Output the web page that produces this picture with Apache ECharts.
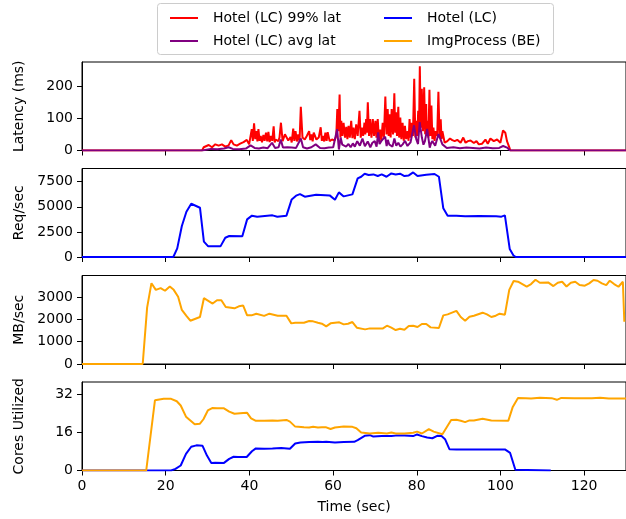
<!DOCTYPE html>
<html>
<head>
<meta charset="utf-8">
<script src="https://cdn.jsdelivr.net/npm/echarts@6/dist/echarts.min.js"></script>
<style>
html, body { margin: 0; padding: 0; background: #fff; }
#chart { width: 626px; height: 519px; }
</style>
</head>
<body>
<div id="chart"></div>
<script>
// latency panel: Hotel (LC) 99% lat (time in sec, ms)
var p99T = [0, 28.7, 29.09, 30.28, 31.07, 31.86, 32.65, 33.44, 34.23, 35.03, 35.66, 36.22, 37.01, 37.8, 38.6, 39.38, 39.93,
    40.57, 40.82, 41.12, 41.39, 41.68, 41.92, 42.16, 42.44, 42.71, 43.01, 43.35, 43.64, 43.97, 44.27, 44.54, 44.84, 45.16, 45.47, 45.8, 46.04,
    46.27, 46.91, 47.19, 47.54, 47.94, 48.49, 49.29, 49.84, 50.11, 50.48, 50.74, 51.03, 51.36, 51.66, 51.99, 52.29, 52.69, 53.24, 53.72,
    54.28, 54.55, 54.83, 55.12, 55.38, 56.02, 56.57, 57.04, 57.32, 57.6, 57.89, 58.16, 58.46, 58.71, 59.18, 59.74, 60.37,
    60.76, 61.01, 61.28, 61.56, 61.75, 61.96, 62.22, 62.51, 62.85, 63.15, 63.42, 63.7, 64.0, 64.33, 64.62, 64.88, 65.2, 65.52, 65.88,
    66.31, 66.61, 66.87, 67.18, 67.5, 67.7, 67.9, 68.07, 68.3, 68.59, 68.85, 69.17, 69.49, 69.79, 70.12, 70.37, 70.67, 70.94, 71.22,
    71.51, 71.86, 72.14, 72.49, 72.77, 73.05, 73.29, 73.53, 73.76, 74.0, 74.33, 74.64, 74.85, 75.03, 75.27, 75.59, 75.79, 76.06, 76.32,
    76.61, 76.89, 77.17, 77.46, 77.8, 78.04, 78.28, 78.51, 78.75, 79.08, 79.39, 79.66, 79.87, 80.13, 80.34, 80.54, 80.73, 80.96,
    81.2, 81.48, 81.77, 82.01, 82.24, 82.39, 82.55, 82.79, 83.03, 83.26, 83.5, 83.73, 83.98, 84.25, 84.53, 84.88, 85.17, 85.45,
    85.72, 85.92, 86.12, 86.67, 87.31, 87.94, 88.49, 89.05, 89.68, 90.47, 91.11, 91.66, 92.22, 92.85, 93.65, 94.27, 94.83, 95.62,
    96.41, 96.97, 97.6, 98.4, 99.19, 99.98, 100.61, 101.16, 101.56, 102.12, 102.35, 130];
var p99V = [0, 0, 10, 17, 10, 19, 15, 19, 12, 16, 32, 19, 15, 21, 26, 33, 19,
    66, 30, 84, 35, 60, 28, 66, 30, 45, 25, 48, 30, 55, 28, 58, 26, 45, 30, 75, 25,
    34, 29, 40, 86, 29, 50, 31, 42, 25, 68, 30, 60, 28, 50, 30, 135, 40, 34, 45,
    60, 32, 50, 28, 55, 34, 40, 72, 30, 45, 28, 55, 30, 57, 29, 34, 31,
    45, 128, 60, 173, 40, 92, 45, 86, 40, 73, 35, 76, 40, 92, 38, 71, 35, 81, 45,
    123, 40, 71, 45, 86, 50, 97, 55, 149, 45, 97, 40, 97, 45, 92, 40, 97, 35, 65,
    30, 86, 40, 167, 50, 128, 45, 112, 40, 128, 50, 177, 55, 118, 45, 135, 40, 102, 35,
    86, 30, 76, 35, 60, 30, 97, 40, 86, 45, 222, 40, 92, 45, 123, 60, 261, 70,
    191, 60, 196, 50, 144, 45, 92, 40, 188, 45, 139, 35, 71, 30, 60, 45, 182, 40,
    97, 35, 60, 24, 29, 37, 32, 29, 33, 24, 40, 24, 29, 31, 23, 29, 19, 21,
    34, 21, 37, 29, 34, 24, 62, 55, 29, 10, 0, 0];

// latency panel: Hotel (LC) avg lat
var avgT = [0, 28.71, 29.13, 30.8, 32.36, 33.93, 35.03, 36.02, 37.58, 39.15, 40.3, 41.24, 42.28, 43.33, 44.37, 45.41, 46.14,
    46.98, 47.5, 48.02, 49.07, 50.11, 51.16, 52.3, 52.83, 53.77, 54.81, 55.85, 56.9, 57.94, 58.99, 60.03, 60.97, 61.39, 61.8,
    62.2, 62.64, 63.1, 63.68, 64.2, 64.73, 65.2, 65.77, 66.4, 67.02, 67.6, 68.28, 68.9, 69.4, 69.95, 70.4, 70.78, 71.1, 71.51,
    72.45, 72.8, 73.08, 73.45, 73.81, 74.2, 74.65, 75.1, 75.59, 76.1, 76.63, 77.2, 77.78, 78.5, 79.34, 79.87, 80.3, 80.7,
    81.22, 81.6, 81.95, 82.48, 83.1, 83.4, 83.73, 84.4, 85.19, 86.13, 87.17, 88.74, 90.31, 91.87, 93.44, 95.0, 96.57,
    98.14, 99.7, 100.64, 101.58, 102.31, 130];
var avgV = [0, 0, 4, 5, 4, 6, 10, 5, 4, 6, 16, 8, 6, 9, 7, 24, 8,
    10, 34, 9, 10, 9, 8, 37, 10, 6, 10, 19, 8, 7, 9, 10, 66, 3, 40,
    18, 24, 12, 20, 10, 22, 12, 29, 15, 37, 13, 28, 10, 24, 29, 12, 56, 20, 29,
    43, 14, 33, 18, 24, 12, 37, 15, 24, 12, 19, 30, 14, 25, 78, 35, 20, 88,
    40, 18, 29, 67, 9, 22, 29, 15, 51, 19, 8, 10, 7, 9, 8, 6, 9,
    7, 8, 14, 9, 0, 0];

// Req/sec panel: Hotel (LC)
var reqT = [0, 21.82, 22.76, 23.86, 24.95, 26.1, 28.19, 29.13, 30.17, 33.09, 34.24, 35.18, 38.31, 39.46, 40.61, 41.86, 45.52,
    46.67, 48.86, 50.11, 51.16, 52.1, 53.24, 55.96, 59.19, 60.45, 61.39, 62.54, 64.62, 65.88, 66.71, 67.55, 68.49, 69.63, 70.68,
    71.62, 72.77, 73.92, 74.96, 76.0, 77.05, 78.09, 79.14, 80.18, 82.27, 84.25, 85.29, 86.34, 87.38, 89.47, 91.56, 94.9, 98.97,
    100.22, 101.06, 102.21, 103.15, 103.67, 130];
var reqV = [0, 0, 860, 3090, 4510, 5310, 4910, 1530, 1060, 1060, 1920, 2090, 2060, 3750, 4120, 4020, 4150,
    4020, 4120, 5740, 6110, 6270, 6010, 6210, 6140, 5710, 6440, 6040, 6240, 7830, 8000, 8300, 8170, 8230, 8070,
    8230, 8000, 8330, 8230, 8300, 8070, 8130, 8430, 8070, 8200, 8270, 8000, 4850, 4120, 4120, 4050, 4080, 4050,
    4020, 4150, 800, 130, 0, 0];

// MB/sec panel: ImgProcess (BE)
var bwT = [0, 14.51, 15.56, 16.6, 17.64, 18.79, 19.84, 20.98, 21.92, 22.97, 23.86, 24.95, 25.89, 28.19, 29.13, 31.22, 32.26,
    33.3, 34.35, 36.44, 37.48, 38.52, 39.46, 40.51, 41.66, 43.53, 44.79, 46.77, 48.86, 50.01, 50.95, 53.04, 54.29, 55.23, 56.38,
    57.32, 58.36, 59.4, 61.49, 62.54, 63.58, 64.62, 65.67, 67.65, 68.8, 71.93, 72.87, 73.92, 74.96, 76.0, 77.05, 78.09, 79.14,
    80.18, 81.22, 82.27, 83.31, 85.29, 86.34, 87.38, 89.47, 90.51, 91.56, 92.6, 93.65, 95.73, 96.78, 97.82, 98.87, 99.81,
    101.06, 102.1, 103.15, 104.19, 106.28, 107.32, 108.37, 109.41, 111.39, 112.65, 113.69, 114.74, 115.78, 116.82, 117.87,
    118.91, 120.16, 121.21, 122.25, 123.19, 124.24, 125.28, 126.12, 127.16, 128.2, 129.25, 129.6];
var bwV = [0, 0, 2530, 3630, 3330, 3410, 3290, 3480, 3330, 3020, 2430, 2160, 1945, 2110, 2955, 2715, 2865,
    2865, 2560, 2500, 2590, 2625, 2185, 2185, 2260, 2160, 2260, 2170, 2170, 1825, 1855, 1855, 1930, 1915, 1855,
    1810, 1690, 1825, 1870, 1780, 1810, 1885, 1630, 1555, 1600, 1600, 1720, 1630, 1525, 1585, 1540, 1705, 1720,
    1660, 1795, 1795, 1645, 1615, 2185, 2230, 2385, 2110, 1945, 2125, 2170, 2305, 2230, 2110, 2170, 2260,
    2215, 3330, 3725, 3695, 3480, 3590, 3785, 3650, 3665, 3500, 3650, 3695, 3480, 3650, 3695,
    3545, 3515, 3620, 3770, 3740, 3620, 3545, 3740, 3590, 3470, 3695, 1900];

// Cores panel: Hotel (LC)
var coreLcT = [0, 21.3, 22.34, 23.59, 24.85, 26.1, 27.35, 28.81, 29.86, 30.9, 31.84, 33.93, 35.18, 36.23, 37.27, 39.36, 40.61,
    41.55, 43.53, 45.52, 47.61, 49.69, 50.95, 52.2, 54.29, 56.38, 57.52, 58.36, 60.45, 62.54, 65.04, 65.88, 67.55, 68.8, 69.63,
    71.62, 73.92, 74.96, 77.05, 79.14, 80.07, 81.22, 82.48, 83.73, 84.88, 85.92, 86.76, 87.8, 89.47, 93.65, 95.73, 97.82,
    101.06, 102.31, 103.56, 112.02];
var coreLcV = [0, 0, 0.7, 2.1, 7.0, 10.0, 10.6, 10.4, 6.3, 3.2, 3.3, 3.2, 4.9, 5.8, 5.7, 5.7, 8.1,
    9.3, 9.2, 9.3, 9.5, 9.2, 11.4, 11.8, 12.0, 12.1, 12.0, 12.1, 11.8, 12.0, 12.1, 12.8, 14.6, 14.9, 14.3,
    14.5, 14.5, 14.7, 14.7, 14.5, 15.2, 14.5, 13.9, 13.6, 14.6, 14.5, 13.2, 9.0, 8.9, 8.9, 8.8, 8.9,
    8.9, 7.4, 0.3, 0];

// Cores panel: ImgProcess (BE)
var coreBeT = [0, 15.35, 17.43, 19.52, 21.3, 22.65, 23.59, 24.85, 26.94, 28.19, 29.02, 30.07, 31.11, 32.26, 33.93, 35.18,
    36.44, 38.52, 39.46, 40.4, 41.45, 43.53, 45.52, 46.77, 48.86, 49.69, 50.95, 53.04, 54.29, 55.23, 56.38, 57.32, 58.36,
    59.4, 60.45, 62.54, 64.62, 65.56, 66.71, 68.8, 70.78, 72.87, 73.92, 74.96, 77.05, 79.14, 80.07, 81.22, 82.89, 84.04,
    86.13, 88.22, 89.47, 90.51, 91.56, 92.6, 93.65, 95.73, 97.82, 101.89, 102.94, 104.19, 106.07, 107.32, 109.41, 112.23,
    113.48, 114.53, 117.66, 121.83, 123.82, 125.91, 129.25, 130];
var coreBeV = [0, 0, 29.6, 30.2, 30.2, 29.2, 27.4, 22.7, 19.5, 19.75, 21.6, 25.3, 26.3, 26.2, 26.2, 24.8,
    23.9, 24.2, 24.3, 22.0, 21.0, 21.0, 21.1, 21.0, 21.3, 20.6, 18.5, 18.2, 18.1, 18.4, 18.1, 18.2, 18.2,
    17.5, 18.1, 18.5, 18.4, 17.8, 16.0, 15.6, 15.9, 15.6, 16.0, 15.6, 15.6, 15.9, 16.4, 15.6, 17.4, 16.4,
    15.3, 21.3, 21.4, 21.0, 20.4, 21.1, 21.1, 21.8, 21.1, 21.0, 26.8, 30.6, 30.5, 30.3, 30.7, 30.5,
    29.8, 30.6, 30.5, 30.5, 30.7, 30.3, 30.3, 30.3];

var xTicks = [0, 20, 40, 60, 80, 100, 120];
var panelNames = ['Latency (ms)', 'Req/sec', 'MB/sec', 'Cores Utilized'];
var panelMax = [274, 8820, 3975, 37.3];
var panelStep = [100, 2500, 1000, 16];

var FONT = 'DejaVu Sans';
var RED = '#ff0000', PURPLE = '#800080', BLUE = '#0000ff', ORANGE = '#ffa500';

function pairs(t, v) { return t.map(function (x, i) { return [x, v[i]]; }); }
function plain(v) { return String(v); }

var chart = echarts.init(document.getElementById('chart'));
var tops = [62, 168.5, 275.5, 382];
var grids = [], xAxes = [], yAxes = [];

tops.forEach(function (top, i) {
    grids.push({ left: 82, width: 546, top: top, height: 88.5, show: true, borderColor: '#000', borderWidth: 1, backgroundColor: 'transparent' });
    xAxes.push({
        type: 'value', gridIndex: i, min: 0, max: 130, interval: xTicks[1] - xTicks[0],
        axisLine: { show: true, onZero: false, lineStyle: { color: '#000', width: 1 } },
        axisTick: { show: true, inside: false, length: 5, lineStyle: { color: '#000' } },
        axisLabel: { show: i === 3, margin: 9, color: '#000', fontFamily: FONT, fontSize: 14, showMaxLabel: false, formatter: plain },
        splitLine: { show: false },
        name: i === 3 ? 'Time (sec)' : '', nameLocation: 'middle', nameGap: 30,
        nameTextStyle: { color: '#000', fontFamily: FONT, fontSize: 14 }
    });
    yAxes.push({
        type: 'value', gridIndex: i, min: 0, max: panelMax[i], interval: panelStep[i],
        axisLine: { show: true, onZero: false, lineStyle: { color: '#000', width: 1 } },
        axisTick: { show: true, inside: false, length: 5, lineStyle: { color: '#000' } },
        axisLabel: { margin: 9, color: '#000', fontFamily: FONT, fontSize: 14, showMaxLabel: false, formatter: plain },
        splitLine: { show: false },
        name: panelNames[i], nameLocation: 'middle', nameRotate: 90, nameGap: 56,
        nameTextStyle: { color: '#000', fontFamily: FONT, fontSize: 14 }
    });
});

function line(name, color, idx, data) {
    return {
        name: name, type: 'line', xAxisIndex: idx, yAxisIndex: idx, data: data,
        showSymbol: false, symbol: 'none', silent: true,
        lineStyle: { color: color, width: 2 }, itemStyle: { color: color }
    };
}

var legendText = { color: '#000', fontFamily: FONT, fontSize: 14, padding: [0, 0, 0, 10] };

chart.setOption({
    animation: false,
    backgroundColor: '#fff',
    grid: grids,
    xAxis: xAxes,
    yAxis: yAxes,
    legend: [
        { orient: 'vertical', left: 165, top: 6, itemWidth: 28, itemHeight: 2, itemGap: 9, icon: 'rect',
          textStyle: legendText, data: ['Hotel (LC) 99% lat', 'Hotel (LC) avg lat'] },
        { orient: 'vertical', left: 379, top: 6, itemWidth: 28, itemHeight: 2, itemGap: 9, icon: 'rect',
          textStyle: legendText, data: ['Hotel (LC)', 'ImgProcess (BE)'] }
    ],
    graphic: [{
        type: 'rect', left: 157, top: 3, z: -1,
        shape: { width: 396, height: 51, r: 3 },
        style: { fill: 'rgba(255,255,255,0.8)', stroke: '#cccccc', lineWidth: 1 }
    }],
    series: [
        line('Hotel (LC) 99% lat', RED, 0, pairs(p99T, p99V)),
        line('Hotel (LC) avg lat', PURPLE, 0, pairs(avgT, avgV)),
        line('Hotel (LC)', BLUE, 1, pairs(reqT, reqV)),
        line('ImgProcess (BE)', ORANGE, 2, pairs(bwT, bwV)),
        line('Hotel (LC)', BLUE, 3, pairs(coreLcT, coreLcV)),
        line('ImgProcess (BE)', ORANGE, 3, pairs(coreBeT, coreBeV))
    ]
});
</script>
</body>
</html>
